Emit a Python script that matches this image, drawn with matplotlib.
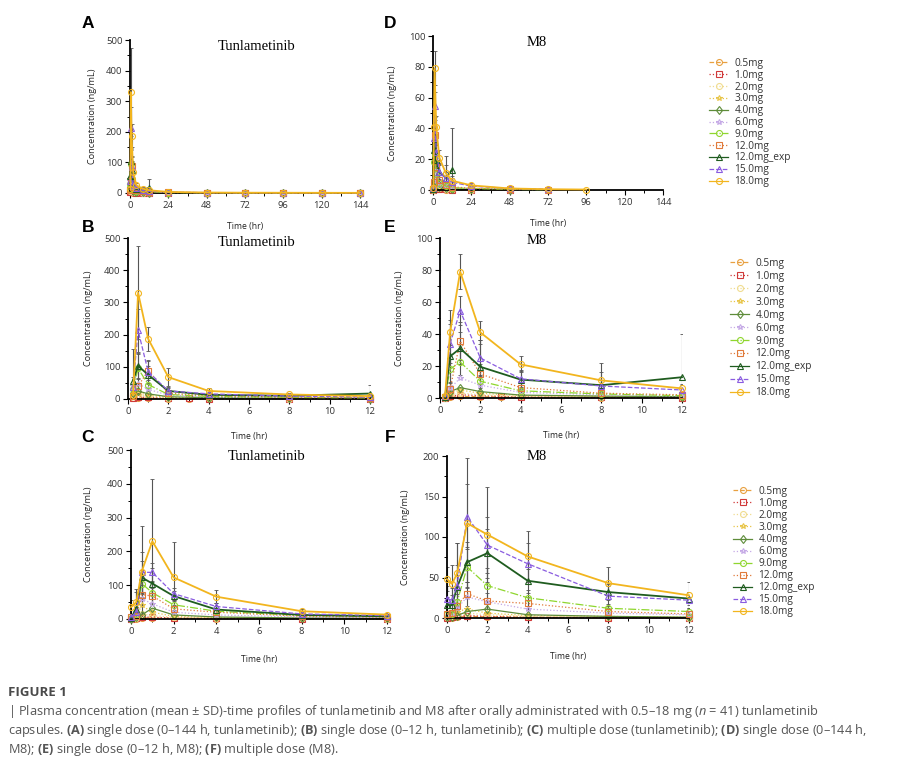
import numpy as np
import matplotlib.pyplot as plt
from matplotlib.ticker import MultipleLocator
from matplotlib.lines import Line2D

nan = np.nan

# dose groups and their drawing style
doses = ['0.5mg', '1.0mg', '2.0mg', '3.0mg', '4.0mg', '6.0mg', '9.0mg',
         '12.0mg', '12.0mg_exp', '15.0mg', '18.0mg']
colors = ['#E8A040', '#D03A3A', '#F0DC90', '#E8C548', '#5E8C3A', '#C5A9E6',
          '#8FD62E', '#E07A3A', '#1F5C1F', '#8A5CE0', '#F2B51E']
styles = ['--', ':', ':', ':', '-', ':', '-.', ':', '-', '--', '-']
markers = ['o', 's', 'o', '*', 'd', '*', 'o', 's', '^', '^', 'o']

t_single = [0.25, 0.5, 1, 2, 3, 4, 8, 12, 24, 48, 72, 96, 120, 144]
t_multi = [0, 0.25, 0.5, 1, 2, 4, 8, 12]

# tunlametinib, single dose (ng/mL)
tun_single_mean = {
    '0.5mg': [2, 3, 2.5, 1.5, 1.2, 1, 0.6, 0.4, 0.2, 0.1, 0.1, 0.05, 0.05, 0.05],
    '1.0mg': [3, 6, 5, 2.5, 2, 1.5, 1, 0.6, 0.3, 0.2, 0.1, 0.1, 0.1, 0.05],
    '2.0mg': [8, 12, 9, 4, nan, 2.5, 1.5, 1, 0.5, 0.3, 0.2, 0.1, 0.1, 0.1],
    '3.0mg': [15, 20, 12, 5, nan, 3, 2, 1.2, 0.6, 0.4, 0.2, 0.2, 0.1, 0.1],
    '4.0mg': [20, 25, 16, 7, nan, 4, 2.5, 1.5, 0.8, 0.5, 0.3, 0.2, 0.2, 0.1],
    '6.0mg': [40, 48, 30, 12, nan, 6, 4, 2.5, 1.2, 0.7, 0.4, 0.3, 0.2, 0.2],
    '9.0mg': [30, 95, 45, 14, nan, 8, 5, 3.5, 1.5, 0.8, 0.5, 0.4, 0.3, 0.2],
    '12.0mg': [10, 40, 88, 18, nan, 10, 6, 4, 2, 1, 0.6, 0.4, 0.3, 0.2],
    '12.0mg_exp': [57, 103, 75, 25, nan, 13, 10, 17, nan, nan, nan, nan, nan, nan],
    '15.0mg': [38, 213, 85, 25, nan, 16, 9, 6, 2.5, 1.2, 0.8, 0.5, 0.4, 0.3],
    '18.0mg': [12, 330, 187, 68, nan, 25, 14, 9, 3.5, 1.5, 1, 0.8, 0.6, 0.5],
}
tun_single_sd = {
    '9.0mg': [15, 45, 20, 6, nan, 3, 2, 1.5, 1, nan, nan, nan, nan, nan],
    '12.0mg': [8, 25, 30, 8, nan, 4, 3, 2, 1, nan, nan, nan, nan, nan],
    '12.0mg_exp': [98, 40, 28, 10, nan, 6, 5, 28, nan, nan, nan, nan, nan, nan],
    '15.0mg': [30, 67, 35, 12, nan, 7, 4, 3, 1, nan, nan, nan, nan, nan],
    '18.0mg': [10, 145, 38, 27, nan, 8, 5, 4, 2, 1, nan, nan, nan, nan],
}

# M8, single dose (ng/mL)
m8_single_mean = {
    '0.5mg': [0.2, 0.5, 1, 0.8, 0.6, 0.5, 0.3, 0.2, 0.1, 0.05, nan, nan, nan, nan],
    '1.0mg': [0.3, 1, 2, 1.5, 1, 0.8, 0.5, 0.3, 0.2, 0.1, nan, nan, nan, nan],
    '2.0mg': [0.3, 2, 3, 2, nan, 1, 0.7, 0.5, 0.3, 0.1, nan, nan, nan, nan],
    '3.0mg': [0.4, 3, 5, 3, nan, 1.5, 1, 0.7, 0.4, 0.2, nan, nan, nan, nan],
    '4.0mg': [0.5, 4, 6.5, 4, nan, 1.8, 1.2, 0.8, 0.5, 0.2, nan, nan, nan, nan],
    '6.0mg': [0.5, 6, 12.5, 8, nan, 3.5, 2, 1.2, 0.8, 0.3, 0.2, nan, nan, nan],
    '9.0mg': [0.5, 18, 22.5, 10.5, nan, 4.5, 2.5, 1.5, 1, 0.4, 0.2, nan, nan, nan],
    '12.0mg': [0.5, 5.5, 35.5, 15, nan, 6.5, 3, 2, 1.2, 0.5, 0.3, nan, nan, nan],
    '12.0mg_exp': [0.5, 26, 31, 19.5, nan, 11.5, 8, 13, nan, nan, nan, nan, nan, nan],
    '15.0mg': [1, 34, 54.5, 25, nan, 12, 7.5, 5, 2.5, 1, 0.5, nan, nan, nan],
    '18.0mg': [1, 41, 79, 41, nan, 21, 11, 6, 3, 1, 0.5, 0.3, nan, nan],
}
m8_single_sd = {
    '9.0mg': [nan, 8, 8, 4, nan, 2, 1, 1, nan, nan, nan, nan, nan, nan],
    '12.0mg': [nan, 4, 12, 6, nan, 3, 1.5, 1, nan, nan, nan, nan, nan, nan],
    '12.0mg_exp': [nan, 29, 10, 17, nan, 6, 14, 27, nan, nan, nan, nan, nan, nan],
    '15.0mg': [nan, 12, 9, 11, nan, 5, 4, 3, nan, nan, nan, nan, nan, nan],
    '18.0mg': [nan, 8, 11, 7, nan, 5, 5, 3, 1.5, nan, nan, nan, nan, nan],
}

# tunlametinib, multiple dose (ng/mL)
tun_multi_mean = {
    '0.5mg': [0.3, 1, 3, 3, 2, 1, 0.5, 0.3],
    '1.0mg': [0.5, 2, 6, 5, 3, 2, 1, 0.5],
    '2.0mg': [1, 4, 15, 10, 5, 3, 1.5, 1],
    '3.0mg': [1, 8, 40, 20, 8, 4, 2, 1],
    '4.0mg': [1, 5, 12, 32, 12, 6, 3, 2],
    '6.0mg': [2, 10, 60, 45, 20, 12, 6, 4],
    '9.0mg': [3, 15, 105, 78, 42, 23, 10, 7],
    '12.0mg': [5, 10, 72, 68, 30, 20, 8, 5],
    '12.0mg_exp': [3, 30, 123, 105, 68, 28, 12, 8],
    '15.0mg': [5, 20, 138, 138, 75, 37, 15, 10],
    '18.0mg': [35, 50, 140, 230, 123, 66, 23, 13],
}
tun_multi_sd = {
    '9.0mg': [2, 10, 40, 30, 15, 8, 4, 3],
    '12.0mg': [3, 8, 30, 25, 12, 8, 3, 2],
    '12.0mg_exp': [3, 60, 50, 45, 15, 10, 5, 4],
    '15.0mg': [4, 15, 60, 27, 18, 10, 5, 3],
    '18.0mg': [20, 30, 135, 185, 105, 19, 8, 5],
}

# M8, multiple dose (ng/mL)
m8_multi_mean = {
    '0.5mg': [0.3, 0.3, 1, 2, 1.5, 1, 0.5, 0.3],
    '1.0mg': [0.5, 1, 2, 3, 2, 1, 0.5, 0.3],
    '2.0mg': [1, 2, 4, 6, 4, 2, 1, 0.5],
    '3.0mg': [2, 3, 8, 11, 6, 3, 2, 1],
    '4.0mg': [1, 1, 3, 8, 11, 4, 2, 1],
    '6.0mg': [3, 4, 12, 26, 20, 11, 6, 4],
    '9.0mg': [5, 5, 20, 63, 40, 25, 12, 8],
    '12.0mg': [5, 6, 15, 30, 21, 18, 8, 5],
    '12.0mg_exp': [16, 16, 38, 69, 80, 46, 32, 24],
    '15.0mg': [24, 22, 40, 125, 90, 67, 27, 22],
    '18.0mg': [48, 42, 55, 117, 103, 76, 43, 28],
}
m8_multi_sd = {
    '9.0mg': [3, 3, 10, 25, 22, 10, 5, 3],
    '12.0mg': [3, 4, 8, 15, 10, 8, 4, 3],
    '12.0mg_exp': [10, 12, 55, 25, 30, 15, 10, 8],
    '15.0mg': [15, 15, 25, 40, 35, 25, 12, 10],
    '18.0mg': [15, 23, 37, 80, 59, 31, 20, 16],
}

plt.rcParams['font.family'] = ['Open Sans', 'DejaVu Sans']
plt.rcParams['mathtext.fontset'] = 'custom'
plt.rcParams['mathtext.rm'] = 'Open Sans'
plt.rcParams['mathtext.bf'] = 'Open Sans:bold'
plt.rcParams['mathtext.it'] = 'Open Sans:italic'

W, H = 898, 760
fig = plt.figure(figsize=(W / 100, H / 100), dpi=100)


def box(l, r, t, b):
    return [l / W, 1 - b / H, (r - l) / W, (b - t) / H]


def draw(ax, times, means, sds, xmax):
    t = np.array(times, float)
    inside = t <= xmax
    for i, lab in enumerate(doses):
        m = np.array(means[lab], float)
        ok = np.isfinite(m) & inside
        if lab in sds:
            s = np.array(sds[lab], float)
            e = ok & np.isfinite(s)
            lo = np.minimum(s[e], m[e])
            ax.errorbar(t[e], m[e], yerr=[lo, s[e]], fmt='none', ecolor='#555555',
                        elinewidth=0.8, capsize=1.2, capthick=0.6, zorder=1)
        lw = 1.3 if lab in ('18.0mg', '12.0mg_exp') else 0.9
        ax.plot(t[ok], m[ok], color=colors[i], ls=styles[i], lw=lw,
                marker=markers[i], ms=4.3, mfc='none', mec=colors[i], mew=0.8,
                zorder=2 + i * 0.1, clip_on=False)


def style(ax, xmax, xmaj, xmin, ymax, ymaj, ymin, ylab_dx, xlab_dy, hpx, wpx):
    ax.set_xlim(0, xmax)
    ax.set_ylim(0, ymax)
    for sp in ('top', 'right'):
        ax.spines[sp].set_visible(False)
    for sp in ('left', 'bottom'):
        ax.spines[sp].set_linewidth(1.3)
    ax.xaxis.set_major_locator(MultipleLocator(xmaj))
    ax.xaxis.set_minor_locator(MultipleLocator(xmin))
    ax.yaxis.set_major_locator(MultipleLocator(ymaj))
    ax.yaxis.set_minor_locator(MultipleLocator(ymin))
    ax.tick_params(which='major', length=3.5, width=0.8, labelsize=6.8, labelcolor='#333333', pad=2)
    ax.tick_params(which='minor', length=2, width=0.7)
    ax.set_xlabel('Time (hr)', fontsize=6.2, color='#222222')
    ax.set_ylabel('Concentration (ng/mL)', fontsize=6.6, color='#222222')
    ax.xaxis.set_label_coords(0.5, -xlab_dy / hpx)
    ax.yaxis.set_label_coords(-ylab_dx / wpx, 0.5)


panels = [
    # letter, box, times, means, sds, xmax, xmaj, xmin, ymax, ymaj, ymin, title, title pos, letter pos
    ('A', (130, 360, 40, 193), t_single, tun_single_mean, tun_single_sd, 144, 24, 12, 500, 100, 50, 'Tunlametinib', (257, 46), (88, 24)),
    ('D', (433, 663, 36, 190), t_single, m8_single_mean, m8_single_sd, 144, 24, 12, 100, 20, 10, 'M8', (537, 43), (390, 24)),
    ('B', (128, 370, 238, 399), t_single, tun_single_mean, tun_single_sd, 12, 2, 1, 500, 100, 50, 'Tunlametinib', (257, 242), (88, 228)),
    ('E', (440, 682, 238, 398), t_single, m8_single_mean, m8_single_sd, 12, 2, 1, 100, 20, 10, 'M8', (537, 241), (390, 228)),
    ('C', (131, 387, 450, 619), t_multi, tun_multi_mean, tun_multi_sd, 12, 2, 1, 500, 100, 50, 'Tunlametinib', (267, 457), (88, 438)),
    ('F', (447, 689, 456, 618), t_multi, m8_multi_mean, m8_multi_sd, 12, 2, 1, 200, 50, 25, 'M8', (537, 457), (390, 438)),
]
ylab_x = {'A': 97, 'D': 397, 'B': 93, 'E': 404, 'C': 93, 'F': 410}
xlab_y = {'A': 222, 'D': 219, 'B': 432, 'E': 431, 'C': 655, 'F': 652}

for letter, b, times, means, sds, xmax, xmaj, xmin, ymax, ymaj, ymin, title, tpos, lpos in panels:
    l, r, t, bt = b
    ax = fig.add_axes(box(*b))
    draw(ax, times, means, sds, xmax)
    style(ax, xmax, xmaj, xmin, ymax, ymaj, ymin, l - ylab_x[letter], xlab_y[letter] - bt,
          bt - t, r - l)
    fig.text(tpos[0] / W, 1 - tpos[1] / H, title, family='Liberation Serif', fontsize=10.5,
             ha='center', va='center')
    fig.text(lpos[0] / W, 1 - lpos[1] / H, letter, family='Liberation Sans', fontsize=12.5,
             fontweight='bold', ha='center', va='center')

# legends
handles = [Line2D([], [], color=colors[i], ls=styles[i], lw=0.9, marker=markers[i], ms=4.3,
                  mfc='none', mec=colors[i], mew=0.8) for i in range(len(doses))]
for x0, y0, sp in [(709, 58, 0.08), (730, 258, 0.19), (733, 486, 0.10)]:
    fig.legend(handles, doses, loc='upper left', bbox_to_anchor=(x0 / W, 1 - y0 / H),
               frameon=False, fontsize=7.3, handlelength=1.9, handletextpad=0.6,
               labelspacing=sp, borderpad=0, borderaxespad=0, labelcolor='#333333')

# caption
fig.text(8 / W, 1 - 693 / H, 'FIGURE 1', fontsize=9.5, fontweight='bold', color='#4a4a4a',
         va='center')
cap = [
    r'| Plasma concentration (mean ± SD)-time profiles of tunlametinib and M8 after orally administrated with 0.5–18 mg ($\mathit{n}$ = 41) tunlametinib',
    r'capsules. $\mathbf{(A)}$ single dose (0–144 h, tunlametinib); $\mathbf{(B)}$ single dose (0–12 h, tunlametinib); $\mathbf{(C)}$ multiple dose (tunlametinib); $\mathbf{(D)}$ single dose (0–144 h,',
    r'M8); $\mathbf{(E)}$ single dose (0–12 h, M8); $\mathbf{(F)}$ multiple dose (M8).',
]
for k, line in enumerate(cap):
    fig.text(8 / W, 1 - (712 + 18.5 * k) / H, line, fontsize=9.2, color='#555555', va='center')

fig.savefig('out.png', dpi=100)
